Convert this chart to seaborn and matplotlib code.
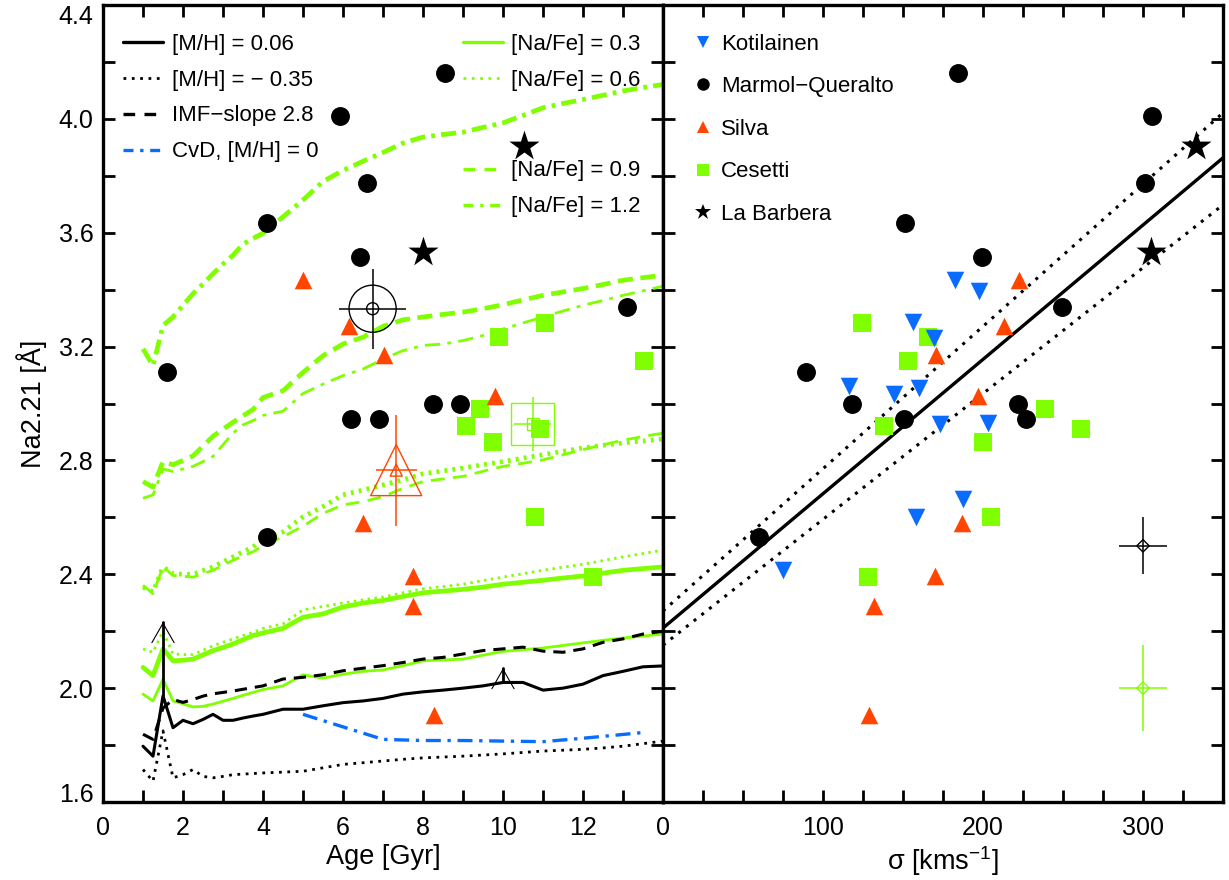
import numpy as np
import pandas as pd
import matplotlib
matplotlib.use("Agg")
import matplotlib.pyplot as plt
from matplotlib.lines import Line2D
from matplotlib.ticker import MultipleLocator, FixedLocator, FormatStrFormatter
import seaborn as sns

sns.set_theme(style="ticks")
plt.rcParams['font.family'] = ['Liberation Sans', 'DejaVu Sans']
plt.rcParams['mathtext.fontset'] = 'custom'
plt.rcParams['mathtext.rm'] = 'Liberation Sans'
plt.rcParams['text.color'] = 'black'
plt.rcParams['axes.labelcolor'] = 'black'

# --- model grid (age in Gyr) ---
ages = [1.0, 1.25, 1.5, 1.75, 2.0, 2.25, 2.5, 2.75, 3.0, 3.25, 3.5, 3.75, 4.0, 4.5, 5.0, 5.5,
        6.0, 6.5, 7.0, 7.5, 8.0, 8.5, 9.0, 9.5, 10.0, 10.5, 11.0, 11.5, 12.0, 12.5, 13.0, 13.5, 14.0]

mh006 = [1.796, 1.761, 1.973, 1.861, 1.887, 1.875, 1.890, 1.908, 1.887, 1.887, 1.895, 1.902, 1.908,
         1.926, 1.926, 1.938, 1.949, 1.955, 1.964, 1.979, 1.987, 1.993, 2.000, 2.008, 2.020, 2.020,
         1.993, 2.000, 2.014, 2.044, 2.059, 2.075, 2.078]
mh035 = [1.714, 1.673, 1.850, 1.685, 1.696, 1.714, 1.690, 1.685, 1.690, 1.696, 1.698, 1.700, 1.702,
         1.705, 1.708, 1.720, 1.732, 1.738, 1.744, 1.750, 1.755, 1.758, 1.761, 1.765, 1.769, 1.774,
         1.779, 1.782, 1.785, 1.790, 1.796, 1.805, 1.814]
imf28 = [1.838, 1.820, 1.930, 1.960, 1.950, 1.960, 1.972, 1.980, 1.985, 1.990, 1.996, 2.002, 2.008,
         2.032, 2.038, 2.047, 2.061, 2.070, 2.079, 2.090, 2.102, 2.108, 2.120, 2.132, 2.138, 2.144,
         2.130, 2.126, 2.138, 2.161, 2.173, 2.190, 2.200]

cvd_ages = [5.0, 6.0, 7.0, 8.0, 9.0, 10.0, 11.0, 12.0, 13.5]
cvd = [1.908, 1.864, 1.820, 1.816, 1.816, 1.814, 1.812, 1.824, 1.844]

# [Na/Fe] enhanced models, thick = [M/H]=0.06, thin = [M/H]=-0.35
na03_hi = [2.073, 2.044, 2.138, 2.096, 2.098, 2.102, 2.117, 2.132, 2.143, 2.155, 2.170, 2.185, 2.194,
           2.210, 2.249, 2.261, 2.285, 2.299, 2.308, 2.322, 2.335, 2.341, 2.347, 2.355, 2.365, 2.372,
           2.379, 2.387, 2.394, 2.404, 2.414, 2.420, 2.426]
na03_lo = [1.979, 1.955, 2.032, 1.955, 1.945, 1.934, 1.936, 1.944, 1.954, 1.964, 1.975, 1.985, 1.995,
           2.008, 2.047, 2.035, 2.049, 2.059, 2.064, 2.079, 2.096, 2.099, 2.102, 2.116, 2.129, 2.135,
           2.141, 2.150, 2.159, 2.168, 2.176, 2.183, 2.190]
na06_hi = [2.355, 2.338, 2.426, 2.402, 2.400, 2.400, 2.413, 2.426, 2.444, 2.461, 2.479, 2.496, 2.522,
           2.549, 2.602, 2.638, 2.679, 2.696, 2.714, 2.732, 2.753, 2.763, 2.773, 2.785, 2.796, 2.808,
           2.820, 2.832, 2.844, 2.853, 2.861, 2.868, 2.875]
na06_lo = [2.138, 2.126, 2.200, 2.120, 2.118, 2.118, 2.133, 2.149, 2.161, 2.173, 2.185, 2.196, 2.210,
           2.226, 2.275, 2.287, 2.299, 2.310, 2.320, 2.335, 2.349, 2.357, 2.365, 2.378, 2.390, 2.402,
           2.414, 2.425, 2.435, 2.448, 2.461, 2.473, 2.485]
na09_hi = [2.726, 2.706, 2.796, 2.785, 2.800, 2.816, 2.850, 2.885, 2.910, 2.934, 2.957, 2.979, 3.021,
           3.045, 3.109, 3.168, 3.209, 3.233, 3.271, 3.294, 3.304, 3.313, 3.321, 3.333, 3.347, 3.364,
           3.380, 3.392, 3.404, 3.418, 3.433, 3.442, 3.451]
na09_lo = [2.361, 2.332, 2.426, 2.396, 2.393, 2.390, 2.402, 2.414, 2.432, 2.449, 2.465, 2.479, 2.500,
           2.532, 2.569, 2.614, 2.644, 2.655, 2.673, 2.702, 2.726, 2.735, 2.744, 2.762, 2.779, 2.790,
           2.802, 2.820, 2.838, 2.855, 2.871, 2.884, 2.896]
na12_hi = [3.192, 3.133, 3.274, 3.304, 3.345, 3.386, 3.420, 3.456, 3.490, 3.521, 3.560, 3.580, 3.598,
           3.656, 3.715, 3.780, 3.819, 3.851, 3.882, 3.915, 3.936, 3.945, 3.953, 3.970, 3.986, 4.012,
           4.039, 4.054, 4.068, 4.083, 4.098, 4.110, 4.121]
na12_lo = [2.667, 2.679, 2.770, 2.761, 2.770, 2.779, 2.796, 2.814, 2.855, 2.896, 2.925, 2.940, 2.958,
           2.973, 3.035, 3.068, 3.098, 3.121, 3.156, 3.186, 3.204, 3.209, 3.221, 3.239, 3.262, 3.283,
           3.304, 3.325, 3.345, 3.362, 3.380, 3.396, 3.412]

# --- galaxy samples ---
mq_na = [4.162, 4.010, 3.776, 3.635, 3.515, 3.339, 3.109, 3.000, 3.000, 2.944, 2.944, 2.532]
mq_age = [8.54, 5.92, 6.61, 4.10, 6.42, 13.10, 1.60, 8.24, 8.92, 6.20, 6.91, 4.10]
mq_sigma = [184.5, 305.7, 301.0, 151.0, 199.5, 249.3, 89.3, 118.2, 221.6, 150.5, 226.8, 60.0]

silva_na = [3.435, 3.272, 3.172, 3.027, 2.581, 2.395, 2.289, 1.907]
silva_age = [5.00, 6.16, 7.02, 9.80, 6.50, 7.76, 7.76, 8.27]
silva_sigma = [222.3, 213.2, 170.9, 196.6, 187.0, 170.0, 132.0, 128.8]

ces_na = [3.282, 3.232, 3.150, 2.982, 2.920, 2.910, 2.865, 2.600, 2.390]
ces_age = [11.06, 9.90, 13.53, 9.42, 9.08, 10.93, 9.75, 10.80, 12.24]
ces_sigma = [124.3, 165.5, 153.0, 238.6, 138.0, 261.4, 200.0, 205.2, 128.1]

lb_na = [3.904, 3.533]
lb_age = [10.52, 8.00]
lb_sigma = [333.0, 305.0]

kot_na = [3.435, 3.395, 3.285, 3.231, 3.060, 3.033, 3.056, 2.929, 2.933, 2.600, 2.665, 2.414]
kot_sigma = [182.3, 197.3, 156.4, 169.3, 116.4, 144.3, 160.2, 173.2, 203.4, 158.0, 187.8, 74.8]

# sample means with errors: Marmol-Queralto, Silva, Cesetti
mean_age = [6.74, 7.33, 10.74]
mean_na = [3.333, 2.766, 2.928]
mean_age_err = [0.83, 0.51, 0.47]
mean_na_err = [0.14, 0.195, 0.095]

# typical error bars in sigma panel
err_sigma = [300.0, 300.0]
err_na = [2.50, 2.00]
err_sigma_err = [15.0, 15.0]
err_na_err = [0.10, 0.15]

# arrows (lower limits)
arrow_age = [1.5, 10.0]
arrow_lo = [1.973, 2.020]
arrow_hi = [2.232, 2.070]

# sigma - Na2.21 relation and its scatter
rel_sigma = [0.0, 350.0]
rel_mid = [2.211, 3.863]
rel_up = [2.271, 4.021]
rel_dn = [2.151, 3.698]

GREEN = '#80FF00'
RED = '#FF4500'
BLUE = '#0A6CFF'
FS_TICK = 18
FS_LAB = 19.5
FS_LEG = 16

fig = plt.figure(figsize=(12.29, 8.80), dpi=100)
axl = fig.add_axes([103 / 1229, 1 - 802 / 880, 560 / 1229, 797 / 880])
axr = fig.add_axes([663 / 1229, 1 - 802 / 880, 560 / 1229, 797 / 880])


def line(ax, x, y, color, lw, ls, z=2):
    sns.lineplot(x=x, y=y, ax=ax, color=color, lw=lw, linestyle=ls,
                 sort=False, estimator=None, zorder=z)


dot_thick = (0, (0.6, 1.1))
dot_thin = (0, (0.9, 1.6))
dash_thick = (0, (3.2, 1.6))
dash_thin = (0, (5.0, 3.0))
dd_thick = (0, (3.2, 1.3, 0.8, 1.3))
dd_thin = (0, (5.5, 2.6, 1.4, 2.6))

# ---------------- left panel: Na2.21 vs age ----------------
line(axl, ages, na12_hi, GREEN, 3.4, dd_thick)
line(axl, ages, na12_lo, GREEN, 2.0, dd_thin)
line(axl, ages, na09_hi, GREEN, 3.4, dash_thick)
line(axl, ages, na09_lo, GREEN, 2.0, dash_thin)
line(axl, ages, na06_hi, GREEN, 3.4, dot_thick)
line(axl, ages, na06_lo, GREEN, 2.0, dot_thin)
line(axl, ages, na03_hi, GREEN, 3.4, '-')
line(axl, ages, na03_lo, GREEN, 2.0, '-')
line(axl, ages, imf28, 'black', 2.2, (0, (4.0, 2.6)))
line(axl, ages, mh006, 'black', 2.2, '-')
line(axl, ages, mh035, 'black', 2.0, (0, (1.0, 2.0)))
line(axl, cvd_ages, cvd, BLUE, 2.4, (0, (4.5, 2.0, 1.0, 2.0)))

for a, lo, hi in zip(arrow_age, arrow_lo, arrow_hi):
    axl.plot([a, a], [lo, hi], color='black', lw=2.0, zorder=4)
    axl.annotate('', xy=(a, hi), xytext=(a, hi - 0.005),
                 arrowprops=dict(arrowstyle='->,head_length=0.7,head_width=0.4',
                                 lw=0.8, color='black', mutation_scale=20,
                                 shrinkA=0, shrinkB=0), zorder=4)

sns.scatterplot(x=ces_age, y=ces_na, ax=axl, marker='s', color=GREEN, s=180, linewidth=0, zorder=5)
sns.scatterplot(x=silva_age, y=silva_na, ax=axl, marker='^', color=RED, s=160, linewidth=0, zorder=5)
sns.scatterplot(x=mq_age, y=mq_na, ax=axl, marker='o', color='black', s=185, linewidth=0, zorder=6)
sns.scatterplot(x=lb_age, y=lb_na, ax=axl, marker='*', color='black', s=520, linewidth=0, zorder=6)

mean_cols = ['black', RED, GREEN]
mean_marks = ['o', '^', 's']
mean_big = [1150, 1350, 950]
for i in range(3):
    axl.errorbar(mean_age[i], mean_na[i], xerr=mean_age_err[i], yerr=mean_na_err[i],
                 fmt='none', ecolor=mean_cols[i], elinewidth=1.1, capsize=0, zorder=7)
    axl.scatter(mean_age[i], mean_na[i], marker=mean_marks[i], s=mean_big[i],
                facecolors='none', edgecolors=mean_cols[i], linewidths=1.0, zorder=7)
    axl.scatter(mean_age[i], mean_na[i], marker=mean_marks[i], s=75,
                facecolors='none', edgecolors=mean_cols[i], linewidths=1.0, zorder=7)

# ---------------- right panel: Na2.21 vs sigma ----------------
line(axr, rel_sigma, rel_mid, 'black', 2.4, '-')
line(axr, rel_sigma, rel_up, 'black', 2.2, (0, (1.0, 2.2)))
line(axr, rel_sigma, rel_dn, 'black', 2.2, (0, (1.0, 2.2)))

sns.scatterplot(x=ces_sigma, y=ces_na, ax=axr, marker='s', color=GREEN, s=180, linewidth=0, zorder=5)
sns.scatterplot(x=kot_sigma, y=kot_na, ax=axr, marker='v', color=BLUE, s=160, linewidth=0, zorder=5)
sns.scatterplot(x=silva_sigma, y=silva_na, ax=axr, marker='^', color=RED, s=160, linewidth=0, zorder=5)
sns.scatterplot(x=mq_sigma, y=mq_na, ax=axr, marker='o', color='black', s=185, linewidth=0, zorder=6)
sns.scatterplot(x=lb_sigma, y=lb_na, ax=axr, marker='*', color='black', s=520, linewidth=0, zorder=6)

for i, c in enumerate(['black', GREEN]):
    axr.errorbar(err_sigma[i], err_na[i], xerr=err_sigma_err[i], yerr=err_na_err[i],
                 fmt='none', ecolor=c, elinewidth=1.1, capsize=0, zorder=7)
    axr.scatter(err_sigma[i], err_na[i], marker='D', s=40, facecolors='none',
                edgecolors=c, linewidths=1.0, zorder=7)

# ---------------- axes cosmetics ----------------
for ax in (axl, axr):
    ax.set_ylim(1.6, 4.4)
    ax.yaxis.set_major_locator(FixedLocator([1.6, 2.0, 2.4, 2.8, 3.2, 3.6, 4.0, 4.4]))
    ax.yaxis.set_minor_locator(MultipleLocator(0.2))
    ax.tick_params(which='both', direction='in', length=8.5, width=2.0,
                   top=True, right=True, labelsize=FS_TICK, colors='black')
    ax.tick_params(axis='x', pad=10)
    ax.tick_params(axis='y', pad=7)
    for sp in ax.spines.values():
        sp.set_linewidth(2.4)
        sp.set_color('black')
    ax.set_facecolor('white')

axl.set_xlim(0, 14)
axl.xaxis.set_major_locator(FixedLocator([0, 2, 4, 6, 8, 10, 12]))
axl.xaxis.set_minor_locator(MultipleLocator(1))
axl.yaxis.set_major_formatter(FormatStrFormatter('%.1f'))
axl.set_xlabel('Age [Gyr]', fontsize=FS_LAB, labelpad=3, color='black')
axl.set_ylabel('Na2.21 [Å]', fontsize=FS_LAB, labelpad=8, color='black')

# end labels of the y axis sit inside the frame
ytk = axl.yaxis.get_major_ticks()
ytk[0].label1.set_verticalalignment('baseline')
ytk[-1].label1.set_verticalalignment('top')

axr.set_xlim(0, 350)
axr.xaxis.set_major_locator(FixedLocator([0, 100, 200, 300]))
axr.xaxis.set_minor_locator(MultipleLocator(25))
axr.tick_params(labelleft=False)
axr.set_xlabel(r'σ [kms$^{\mathrm{-1}}$]', fontsize=FS_LAB, labelpad=3, color='black')
axr.set_ylabel('')

# ---------------- legends ----------------
leg_kw = dict(frameon=False, fontsize=FS_LEG, borderpad=0, borderaxespad=0,
              handlelength=1.8, handletextpad=0.4, labelspacing=0.67, loc='upper left',
              labelcolor='black')
h1 = [Line2D([], [], color='black', lw=2.4, ls='-'),
      Line2D([], [], color='black', lw=2.0, ls=(0, (1.0, 2.0))),
      Line2D([], [], color='black', lw=2.4, ls=(0, (3.5, 2.8))),
      Line2D([], [], color=BLUE, lw=2.4, ls=(0, (3.0, 2.0, 1.0, 2.0)))]
l1 = axl.legend(h1, ['[M/H] = 0.06', '[M/H] = − 0.35', 'IMF−slope 2.8', 'CvD, [M/H] = 0'],
                bbox_to_anchor=(0.036, 0.964), **leg_kw)
axl.add_artist(l1)
h2 = [Line2D([], [], color=GREEN, lw=2.4, ls='-'),
      Line2D([], [], color=GREEN, lw=2.0, ls=(0, (1.0, 2.0)))]
l2 = axl.legend(h2, ['[Na/Fe] = 0.3', '[Na/Fe] = 0.6'], bbox_to_anchor=(0.642, 0.964), **leg_kw)
axl.add_artist(l2)
h3 = [Line2D([], [], color=GREEN, lw=2.4, ls=(0, (3.5, 2.8))),
      Line2D([], [], color=GREEN, lw=2.4, ls=(0, (3.0, 2.0, 1.0, 2.0)))]
axl.legend(h3, ['[Na/Fe] = 0.9', '[Na/Fe] = 1.2'], bbox_to_anchor=(0.642, 0.805), **leg_kw)

h4 = [Line2D([], [], color=BLUE, marker='v', ls='none', ms=9, mew=0),
      Line2D([], [], color='black', marker='o', ls='none', ms=9, mew=0),
      Line2D([], [], color=RED, marker='^', ls='none', ms=9, mew=0),
      Line2D([], [], color=GREEN, marker='s', ls='none', ms=8, mew=0),
      Line2D([], [], color='black', marker='*', ls='none', ms=12, mew=0)]
axr.legend(h4, ['Kotilainen', 'Marmol−Queralto', 'Silva', 'Cesetti', 'La Barbera'],
           frameon=False, fontsize=FS_LEG, borderpad=0, borderaxespad=0, handlelength=1.0,
           handletextpad=0.3, labelspacing=0.97, loc='upper left', bbox_to_anchor=(0.052, 0.964),
           labelcolor='black')

fig.savefig('out.png', dpi=100, facecolor='white')
